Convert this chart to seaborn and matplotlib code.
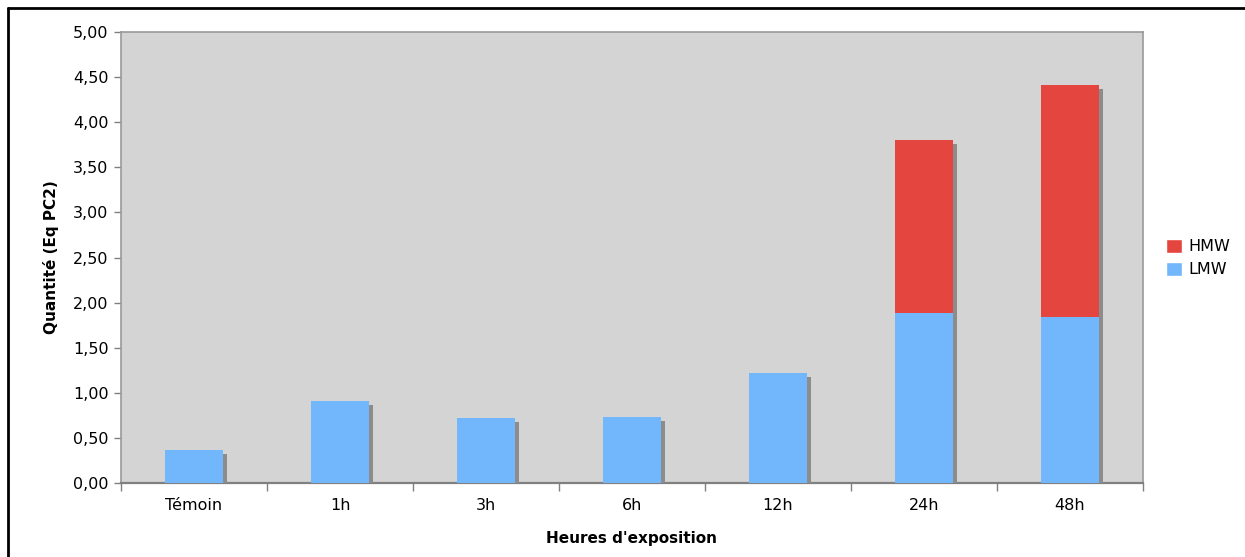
import seaborn as sns
import matplotlib.pyplot as plt
import matplotlib.patheffects as pe
from matplotlib.lines import Line2D
from matplotlib.patches import Patch
from matplotlib.ticker import FuncFormatter, FixedLocator
import pandas as pd

# values (Eq PC2)
hours = ['Témoin', '1h', '3h', '6h', '12h', '24h', '48h']
lmw = [0.37, 0.91, 0.72, 0.735, 1.22, 1.89, 1.84]
hmw = [0.0, 0.0, 0.0, 0.0, 0.0, 1.91, 2.57]

df = pd.DataFrame({'heure': hours, 'LMW': lmw, 'HMW': hmw})
df['total'] = df['LMW'] + df['HMW']

sns.set_style('white')
plt.rcParams['font.family'] = ['DejaVu Sans']
plt.rcParams['text.color'] = 'black'
plt.rcParams['axes.labelcolor'] = 'black'
plt.rcParams['xtick.color'] = 'black'
plt.rcParams['ytick.color'] = 'black'

fig = plt.figure(figsize=(12.45, 5.57), dpi=100)
ax = fig.add_axes([121 / 1245, 1 - 483 / 557, (1143 - 121) / 1245, (483 - 32) / 557])
ax.set_facecolor('#d4d4d4')

red = '#e5453f'
blue = '#72b6fc'
shadow = [pe.withSimplePatchShadow(offset=(3, -3), shadow_rgbFace='#8c8c8c', alpha=1.0)]

# stacked: total (red) first, LMW (blue) drawn over it
sns.barplot(data=df, x='heure', y='total', color=red, width=0.4, saturation=1,
            ax=ax, zorder=2)
sns.barplot(data=df, x='heure', y='LMW', color=blue, width=0.4, saturation=1,
            ax=ax, zorder=3)
for p in ax.patches:
    p.set_path_effects(shadow)
    p.set_linewidth(0)

ax.set_ylim(0, 5)
ax.set_xlim(-0.5, len(hours) - 0.5)
ax.set_yticks([i * 0.5 for i in range(11)])
ax.yaxis.set_major_formatter(FuncFormatter(lambda v, _: f'{v:.2f}'.replace('.', ',')))

# x ticks sit between categories, labels centered on the bars
ax.xaxis.set_major_locator(FixedLocator([i - 0.5 for i in range(len(hours) + 1)]))
ax.xaxis.set_minor_locator(FixedLocator(list(range(len(hours)))))
ax.set_xticklabels([''] * (len(hours) + 1))
ax.set_xticklabels(hours, minor=True)
ax.tick_params(axis='x', which='major', length=6, width=1, color='#808080', direction='out', bottom=True)
ax.tick_params(axis='x', which='minor', length=0, pad=11, labelsize=11.5, labelcolor='black')
ax.tick_params(axis='y', length=5, width=1, color='#808080', direction='out', left=True,
               labelsize=11.5, pad=4, labelcolor='black')

for s in ax.spines.values():
    s.set_color('#9a9a9a')
    s.set_linewidth(1.2)
ax.spines['bottom'].set_color('#808080')
ax.spines['bottom'].set_linewidth(1.6)

ax.set_xlabel("Heures d'exposition", fontsize=11, fontweight='bold', labelpad=13, color='black')
ax.set_ylabel('Quantité (Eq PC2)', fontsize=11, fontweight='bold', labelpad=10, color='black')

handles = [Patch(facecolor=red, label='HMW'), Patch(facecolor=blue, label='LMW')]
fig.legend(handles=handles, loc='center left', bbox_to_anchor=(1152 / 1245, 1 - 258 / 557),
           frameon=False, fontsize=11.5, handlelength=1.0, handleheight=1.0,
           handletextpad=0.4, labelspacing=0.45)

# black frame lines at the top and left of the picture
fig.add_artist(Line2D([7.5 / 1245, 7.5 / 1245], [0, 1 - 7.5 / 557], color='black', lw=2.0))
fig.add_artist(Line2D([7.5 / 1245, 1], [1 - 7.5 / 557, 1 - 7.5 / 557], color='black', lw=2.0))

fig.savefig('out.png', dpi=100)
